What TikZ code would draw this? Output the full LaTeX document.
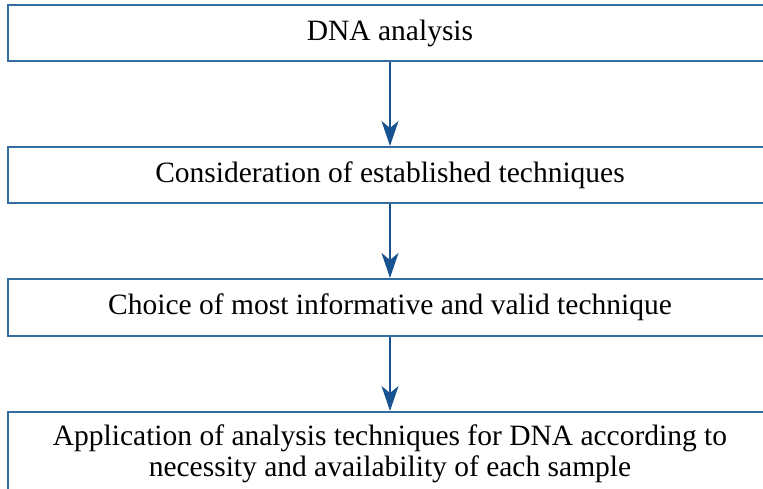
\documentclass[tikz,border=0pt]{standalone}
\usepackage{fontspec}
\setmainfont{Liberation Serif}
\usetikzlibrary{arrows.meta}
\definecolor{boxblue}{RGB}{52,108,160}
\definecolor{arrblue}{RGB}{24,82,145}
\begin{document}
\begin{tikzpicture}[x=1pt,y=-1pt,
  stepbox/.style={draw=boxblue,line width=2pt,minimum width=780pt,anchor=west,inner sep=0pt},
  lbl/.style={font=\fontsize{29.5}{31}\selectfont,align=center,inner sep=0pt},
  conn/.style={draw=arrblue,line width=1.6pt,-{Stealth[length=25pt,width=17pt,inset=7pt]}}]
\useasboundingbox (0,0) rectangle (763,489);
\clip (0,0) rectangle (763,489);
\node[stepbox,minimum height=56pt] (b1) at (7,33) {};
\node[lbl] (t1) at (390,33) {DNA analysis};
\node[stepbox,minimum height=56pt] (b2) at (7,175) {};
\node[lbl] (t2) at (390,175) {Consideration of established techniques};
\node[stepbox,minimum height=57pt] (b3) at (7,307.5) {};
\node[lbl] (t3) at (390,307.5) {Choice of most informative and valid technique};
\node[stepbox,minimum height=110pt] (b4) at (7,467) {};
\node[lbl] (t4) at (390,454) {Application of analysis techniques for DNA according to\\necessity and availability of each sample};
\draw[conn] (b1.south -| t1) -- (b2.north -| t1);
\draw[conn] (b2.south -| t1) -- (b3.north -| t1);
\draw[conn] (b3.south -| t1) -- (b4.north -| t1);
\end{tikzpicture}
\end{document}
